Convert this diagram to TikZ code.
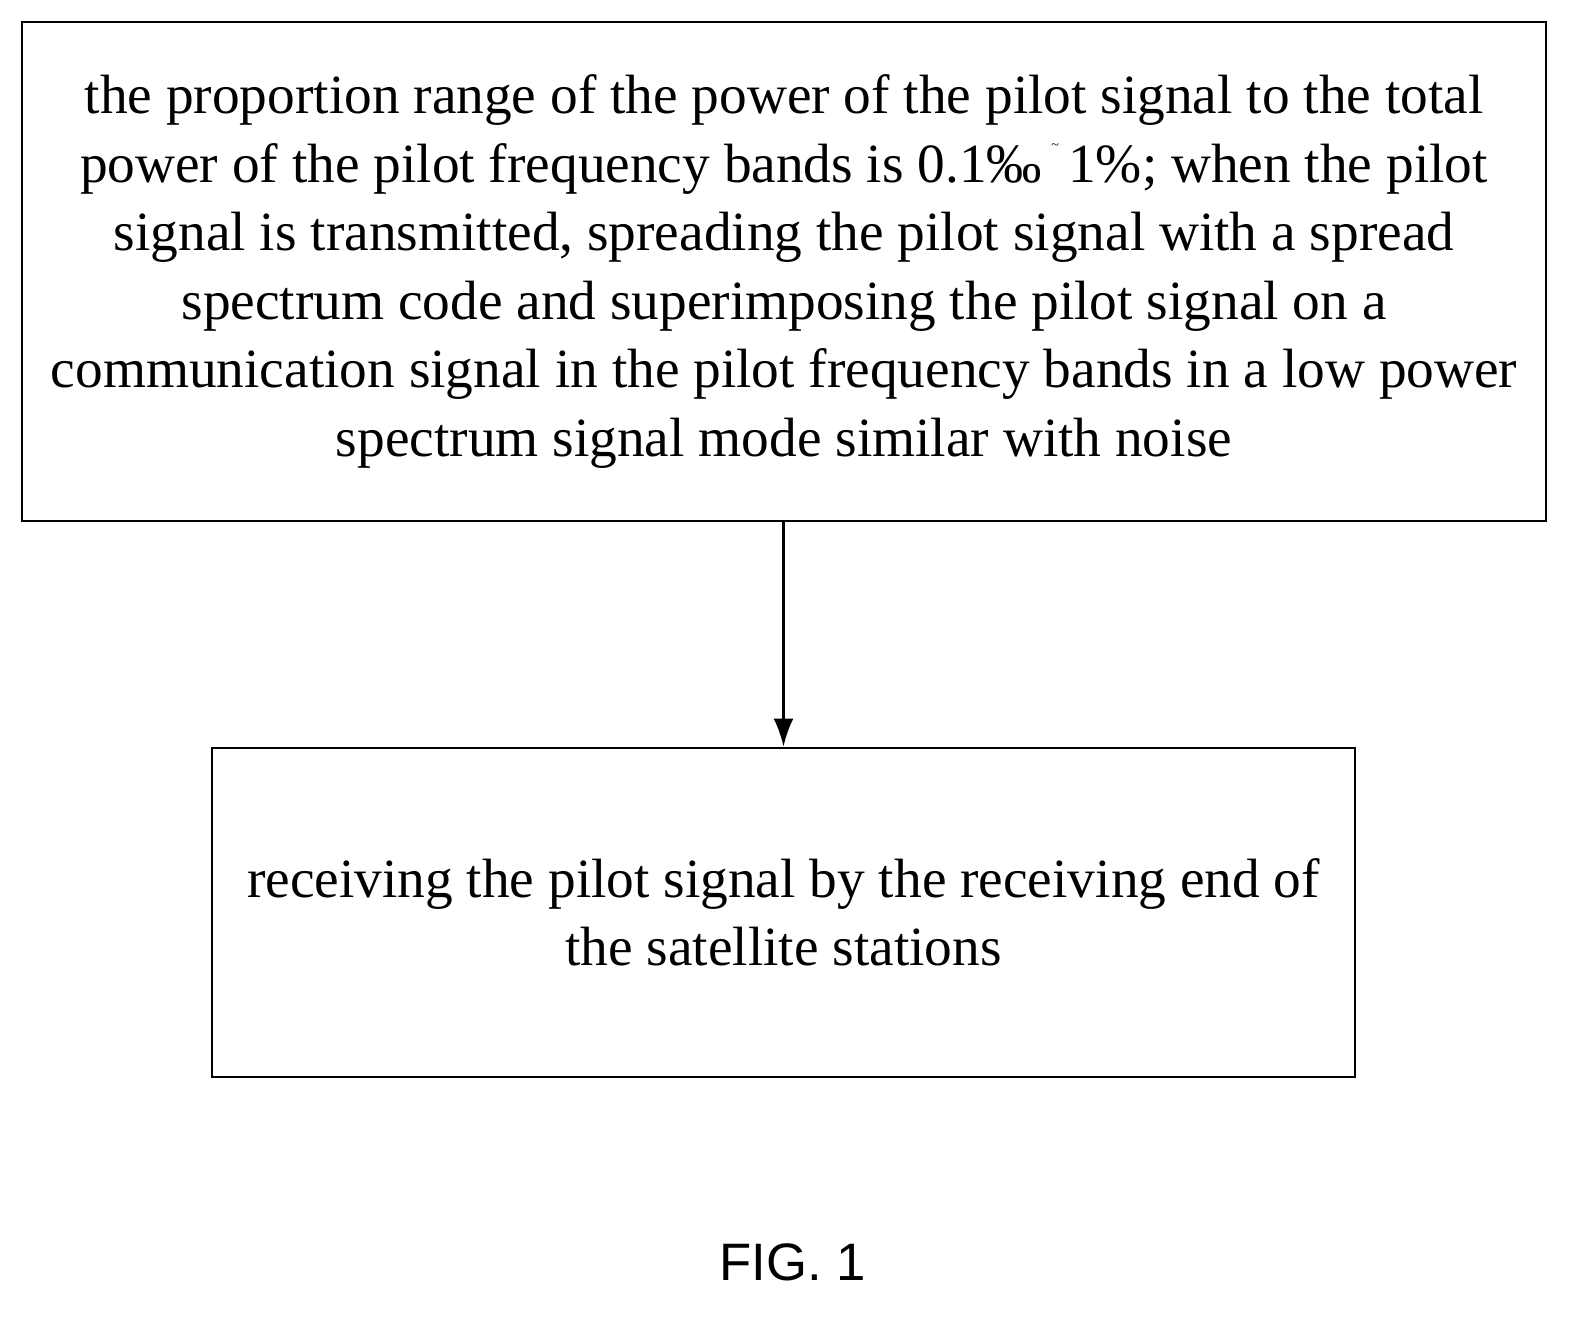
\documentclass[tikz,border=0pt]{standalone}
\usepackage{fontspec}
\setmainfont{Liberation Serif}
\setsansfont{Liberation Sans}
\usetikzlibrary{positioning,arrows.meta}

\begin{document}
\begin{tikzpicture}[x=0.02cm,y=-0.02cm]
  \tikzset{
    flowbox/.style={draw, line width=1.6pt, align=center,
      font=\fontsize{31.5}{39}\selectfont, inner sep=0pt}
  }
  \useasboundingbox (0,0) rectangle (1596,1324);

  % Boxes
  \node[flowbox, minimum width=1524*0.02cm, minimum height=499*0.02cm] (send) at (784,271.5)
    {the proportion range of the power of the pilot signal to the total\\
     power of the pilot frequency bands is 0.1‰\,\raisebox{1.3ex}{\footnotesize\textasciitilde}\,1\%; when the pilot\\
     signal is transmitted, spreading the pilot signal with a spread\\
     spectrum code and superimposing the pilot signal on a\\
     communication signal in the pilot frequency bands in a low power\\
     spectrum signal mode similar with noise};
  \node[flowbox, minimum width=1143*0.02cm, minimum height=329*0.02cm] (recv) at (783.5,912.5)
    {receiving the pilot signal by the receiving end of\\
     the satellite stations};

  % Arrow
  \draw[line width=1.6pt, -{Latex[length=0.56cm,width=0.4cm]}] (send.south -| recv.north) -- (recv.north);

  \node[font=\sffamily\fontsize{30}{36}\selectfont] (fig) at (793,1262) {FIG. 1};
\end{tikzpicture}
\end{document}
